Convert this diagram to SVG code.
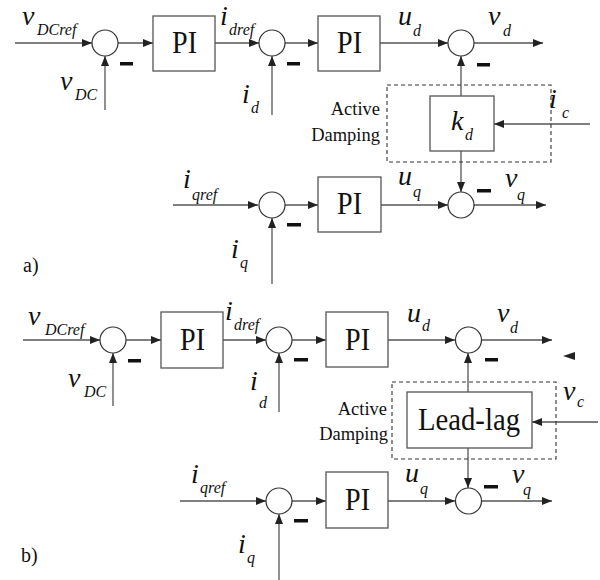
<svg xmlns="http://www.w3.org/2000/svg" width="600" height="580" viewBox="0 0 600 580">
<style>
.ln{stroke:#555;stroke-width:1.3;fill:none}
.bx{stroke:#555;stroke-width:1.3;fill:#fff}
.sum{stroke:#333;stroke-width:1.2;fill:#fff}
.dash{stroke:#333;stroke-width:1.1;fill:none;stroke-dasharray:4 3}
.minus{fill:#111}
.v{font-family:"Liberation Serif","Times New Roman",serif;font-style:italic;font-size:28px;fill:#111}
.s{font-size:16px}
.blk{font-family:"Liberation Serif","Times New Roman",serif;font-size:31px;fill:#111}
.ad{font-family:"Liberation Serif","Times New Roman",serif;font-size:18.5px;fill:#111;text-anchor:end}
.lab{font-family:"Liberation Serif","Times New Roman",serif;font-size:20px;fill:#111}
</style>
<defs>
<marker id="ah" markerWidth="10" markerHeight="8" refX="10" refY="4" orient="auto" markerUnits="userSpaceOnUse">
<path d="M0,0 L10,4 L0,8 z" fill="#222"/>
</marker>
</defs>
<rect width="600" height="580" fill="#fff"/>

<!-- ===== Part a ===== -->
<g id="connectors-a">
<line class="ln" x1="15" y1="43" x2="92" y2="43" marker-end="url(#ah)"/>
<line class="ln" x1="105" y1="110" x2="105" y2="56" marker-end="url(#ah)"/>
<line class="ln" x1="118" y1="43" x2="153" y2="43" marker-end="url(#ah)"/>
<line class="ln" x1="215" y1="43" x2="259" y2="43" marker-end="url(#ah)"/>
<line class="ln" x1="272" y1="115" x2="272" y2="56" marker-end="url(#ah)"/>
<line class="ln" x1="285" y1="43" x2="318" y2="43" marker-end="url(#ah)"/>
<line class="ln" x1="380" y1="43" x2="448" y2="43" marker-end="url(#ah)"/>
<line class="ln" x1="474" y1="43" x2="543" y2="43" marker-end="url(#ah)"/>
<line class="ln" x1="461" y1="96" x2="461" y2="56" marker-end="url(#ah)"/>
<line class="ln" x1="590" y1="124" x2="494" y2="124" marker-end="url(#ah)"/>
<line class="ln" x1="461" y1="151" x2="461" y2="192" marker-end="url(#ah)"/>
<line class="ln" x1="173" y1="205" x2="258" y2="205" marker-end="url(#ah)"/>
<line class="ln" x1="272" y1="284" x2="272" y2="218" marker-end="url(#ah)"/>
<line class="ln" x1="285" y1="205" x2="318" y2="205" marker-end="url(#ah)"/>
<line class="ln" x1="381" y1="205" x2="448" y2="205" marker-end="url(#ah)"/>
<line class="ln" x1="474" y1="205" x2="546" y2="205" marker-end="url(#ah)"/>
</g>

<g id="a-sum1"><circle class="sum" cx="105" cy="43" r="13"/><rect class="minus" x="120" y="62" width="13" height="3.5"/></g>
<g id="a-pi1"><rect class="bx" x="153" y="16" width="62" height="55"/><text class="blk" x="172" y="53" textLength="25" lengthAdjust="spacingAndGlyphs">PI</text></g>
<g id="a-sum2"><circle class="sum" cx="272" cy="43" r="13"/><rect class="minus" x="287" y="62" width="13" height="3.5"/></g>
<g id="a-pi2"><rect class="bx" x="318" y="16" width="62" height="55"/><text class="blk" x="337" y="53" textLength="25" lengthAdjust="spacingAndGlyphs">PI</text></g>
<g id="a-sum3"><circle class="sum" cx="461" cy="43" r="13"/><rect class="minus" x="477" y="63" width="13" height="3.5"/></g>
<g id="a-damping">
<rect class="dash" x="387" y="85" width="164" height="77"/>
<text class="ad" x="380" y="115">Active</text>
<text class="ad" x="380" y="141">Damping</text>
</g>
<g id="a-kd"><rect class="bx" x="430" y="96" width="64" height="55"/><text class="v" x="451" y="130">k<tspan class="s" x="465" y="140">d</tspan></text></g>
<g id="a-sum4"><circle class="sum" cx="272" cy="205" r="13"/><rect class="minus" x="287" y="223" width="14" height="3.5"/></g>
<g id="a-pi3"><rect class="bx" x="318" y="177" width="63" height="55"/><text class="blk" x="337" y="214" textLength="25" lengthAdjust="spacingAndGlyphs">PI</text></g>
<g id="a-sum5"><circle class="sum" cx="461" cy="205" r="13"/><rect class="minus" x="477" y="189" width="14" height="3.5"/></g>

<g id="a-labels">
<text class="v" x="22" y="25">v<tspan class="s" x="37" y="35">DCref</tspan></text>
<text class="v" x="60" y="90">v<tspan class="s" x="75" y="100">DC</tspan></text>
<text class="v" x="220" y="25">i<tspan class="s" x="229" y="35">dref</tspan></text>
<text class="v" x="242" y="103">i<tspan class="s" x="251" y="113">d</tspan></text>
<text class="v" x="398" y="25">u<tspan class="s" x="413" y="36">d</tspan></text>
<text class="v" x="488" y="25">v<tspan class="s" x="503" y="36">d</tspan></text>
<text class="v" x="549" y="108">i<tspan class="s" x="562" y="118">c</tspan></text>
<text class="v" x="183" y="188">i<tspan class="s" x="192" y="200">qref</tspan></text>
<text class="v" x="231" y="258">i<tspan class="s" x="240" y="268">q</tspan></text>
<text class="v" x="398" y="185">u<tspan class="s" x="413" y="197">q</tspan></text>
<text class="v" x="505" y="187">v<tspan class="s" x="517" y="200">q</tspan></text>
<text class="lab" x="23" y="272">a)</text>
</g>

<!-- ===== Part b ===== -->
<g id="connectors-b">
<line class="ln" x1="23" y1="340" x2="100" y2="340" marker-end="url(#ah)"/>
<line class="ln" x1="113" y1="406" x2="113" y2="353" marker-end="url(#ah)"/>
<line class="ln" x1="126" y1="340" x2="161" y2="340" marker-end="url(#ah)"/>
<line class="ln" x1="223" y1="340" x2="266" y2="340" marker-end="url(#ah)"/>
<line class="ln" x1="279" y1="412" x2="279" y2="353" marker-end="url(#ah)"/>
<line class="ln" x1="292" y1="340" x2="326" y2="340" marker-end="url(#ah)"/>
<line class="ln" x1="388" y1="340" x2="455" y2="340" marker-end="url(#ah)"/>
<line class="ln" x1="482" y1="340" x2="552" y2="340" marker-end="url(#ah)"/>
<line class="ln" x1="468" y1="392" x2="468" y2="353" marker-end="url(#ah)"/>
<line class="ln" x1="598" y1="422" x2="532" y2="422" marker-end="url(#ah)"/>
<line class="ln" x1="468" y1="448" x2="468" y2="488" marker-end="url(#ah)"/>
<line class="ln" x1="180" y1="501" x2="266" y2="501" marker-end="url(#ah)"/>
<line class="ln" x1="279" y1="580" x2="279" y2="514" marker-end="url(#ah)"/>
<line class="ln" x1="292" y1="501" x2="326" y2="501" marker-end="url(#ah)"/>
<line class="ln" x1="388" y1="501" x2="455" y2="501" marker-end="url(#ah)"/>
<line class="ln" x1="482" y1="501" x2="552" y2="501" marker-end="url(#ah)"/>
<path d="M563,356 L575,352 L575,360 z" fill="#222"/>
</g>

<g id="b-sum1"><circle class="sum" cx="113" cy="340" r="13"/><rect class="minus" x="128" y="359" width="13" height="3.5"/></g>
<g id="b-pi1"><rect class="bx" x="161" y="312" width="62" height="56"/><text class="blk" x="180" y="350" textLength="25" lengthAdjust="spacingAndGlyphs">PI</text></g>
<g id="b-sum2"><circle class="sum" cx="279" cy="340" r="13"/><rect class="minus" x="294" y="358" width="14" height="3.5"/></g>
<g id="b-pi2"><rect class="bx" x="326" y="312" width="62" height="55"/><text class="blk" x="345" y="350" textLength="25" lengthAdjust="spacingAndGlyphs">PI</text></g>
<g id="b-sum3"><circle class="sum" cx="468.5" cy="340" r="13"/><rect class="minus" x="485" y="358" width="13" height="3.5"/></g>
<g id="b-damping">
<rect class="dash" x="392" y="382" width="164" height="77"/>
<text class="ad" x="387" y="415">Active</text>
<text class="ad" x="388" y="440">Damping</text>
</g>
<g id="b-leadlag"><rect class="bx" x="407" y="392" width="125" height="56"/><text class="blk" x="418" y="430" textLength="102" lengthAdjust="spacingAndGlyphs">Lead-lag</text></g>
<g id="b-sum4"><circle class="sum" cx="279" cy="501" r="13"/><rect class="minus" x="294" y="519" width="14" height="3.5"/></g>
<g id="b-pi3"><rect class="bx" x="326" y="472" width="62" height="56"/><text class="blk" x="345" y="510" textLength="25" lengthAdjust="spacingAndGlyphs">PI</text></g>
<g id="b-sum5"><circle class="sum" cx="468.5" cy="501" r="13"/><rect class="minus" x="484" y="485" width="14" height="3.5"/></g>

<g id="b-labels">
<text class="v" x="28" y="325">v<tspan class="s" x="45" y="335">DCref</tspan></text>
<text class="v" x="68" y="387">v<tspan class="s" x="84" y="397">DC</tspan></text>
<text class="v" x="225" y="320">i<tspan class="s" x="234" y="330">dref</tspan></text>
<text class="v" x="250" y="390">i<tspan class="s" x="259" y="408">d</tspan></text>
<text class="v" x="407" y="322">u<tspan class="s" x="422" y="331">d</tspan></text>
<text class="v" x="497" y="322">v<tspan class="s" x="510" y="333">d</tspan></text>
<text class="v" x="563" y="400">v<tspan class="s" x="577" y="407">c</tspan></text>
<text class="v" x="191" y="483">i<tspan class="s" x="200" y="493">qref</tspan></text>
<text class="v" x="238" y="553">i<tspan class="s" x="247" y="563">q</tspan></text>
<text class="v" x="405" y="482">u<tspan class="s" x="420" y="494">q</tspan></text>
<text class="v" x="512" y="483">v<tspan class="s" x="523" y="495">q</tspan></text>
<text class="lab" x="21" y="562">b)</text>
</g>
</svg>
